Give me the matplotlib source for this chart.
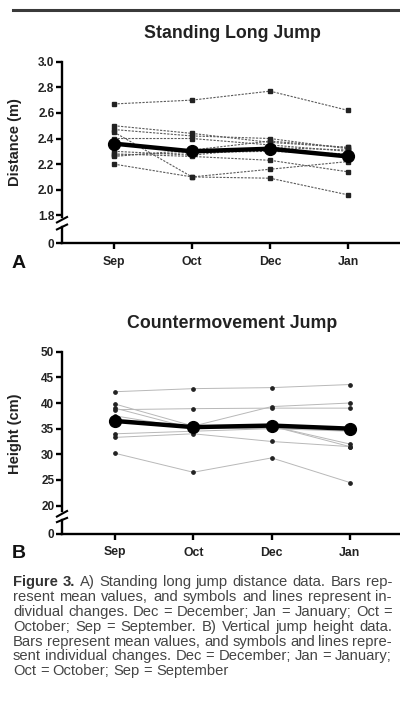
import matplotlib
matplotlib.use("Agg")
import matplotlib.pyplot as plt
import numpy as np

plt.rcParams['font.family'] = ['Liberation Sans', 'DejaVu Sans']

months = ["Sep", "Oct", "Dec", "Jan"]

# Panel A: standing long jump distance (m), individuals
slj_individual = [
    [2.67, 2.70, 2.77, 2.62],
    [2.50, 2.44, 2.37, 2.33],
    [2.47, 2.42, 2.40, 2.32],
    [2.45, 2.10, 2.16, 2.22],
    [2.40, 2.40, 2.35, 2.30],
    [2.30, 2.27, 2.33, 2.31],
    [2.28, 2.26, 2.23, 2.14],
    [2.27, 2.29, 2.30, 2.28],
    [2.26, 2.31, 2.38, 2.33],
    [2.20, 2.10, 2.09, 1.96],
]
slj_mean = [2.36, 2.30, 2.32, 2.26]

# Panel B: countermovement jump height (cm), individuals
cmj_individual = [
    [42.2, 42.8, 43.0, 43.6],
    [39.8, 35.5, 39.3, 40.0],
    [38.7, 38.9, 39.0, 39.0],
    [37.5, 35.0, 35.5, 32.0],
    [36.5, 35.2, 35.0, 35.0],
    [34.0, 34.5, 35.0, 34.5],
    [33.3, 34.0, 32.5, 31.5],
    [30.2, 26.5, 29.3, 24.5],
    [39.0, 35.0, 35.5, 31.5],
]
cmj_mean = [36.5, 35.3, 35.6, 35.0]

W, H = 400, 701
fig = plt.figure(figsize=(W / 100, H / 100), dpi=100)


def fx(px):
    return px / W


def fy(py):
    return 1 - py / H


def rect(left, top, right, bottom):
    return [fx(left), fy(bottom), fx(right) - fx(left), fy(top) - fy(bottom)]


x = np.arange(len(months))
SP = 1.7
TICKFS = 8.5
XTICKFS = 8.8


def make_panel(up_rect, low_rect, up_lim, low_lim, yticks, xlim, indiv, mean,
               ylabel, title, title_y, letter, letter_y, style):
    ax = fig.add_axes(up_rect)
    axl = fig.add_axes(low_rect)
    for a in (ax, axl):
        a.set_facecolor('none')
        for s in ('top', 'right'):
            a.spines[s].set_visible(False)
        a.spines['left'].set_linewidth(SP)
        a.set_xlim(*xlim)
    ax.spines['bottom'].set_visible(False)
    ax.set_xticks([])
    axl.spines['bottom'].set_linewidth(SP)
    ax.set_ylim(*up_lim)
    axl.set_ylim(*low_lim)
    ax.set_yticks(yticks)
    ax.set_yticklabels([f"{t:.1f}" if isinstance(t, float) else str(t) for t in yticks],
                       fontsize=TICKFS, fontweight='bold', color='#222222')
    axl.set_yticks([0])
    axl.set_yticklabels(["0"], fontsize=TICKFS, fontweight='bold', color='#222222')
    axl.set_xticks(x)
    axl.set_xticklabels(months, fontsize=XTICKFS, fontweight='bold', color='#222222')
    for a in (ax, axl):
        a.tick_params(axis='y', length=4.5, width=SP, pad=1.0)
    axl.tick_params(axis='x', length=4.5, width=SP, pad=4.5)

    for row in indiv:
        if style == 'dashed':
            ax.plot(x, row, color='#5a5a5a', lw=0.8, ls=(0, (2, 1.2)),
                    marker='s', ms=2.2, mfc='#222222', mec='#222222', zorder=2)
        else:
            ax.plot(x, row, color='#b8b8b8', lw=0.7, ls='-',
                    marker='o', ms=2.4, mfc='#222222', mec='#222222', zorder=2)
    ax.plot(x, mean, color='black', lw=3.2, marker='o', ms=8.5, zorder=3)

    # break marks
    d_up = dict(transform=ax.transAxes, color='black', lw=1.5, clip_on=False)
    ax.plot([-0.015, 0.015], [-0.035, 0.0], **d_up)
    d_lo = dict(transform=axl.transAxes, color='black', lw=1.5, clip_on=False)
    axl.plot([-0.015, 0.015], [0.85, 1.15], **d_lo)

    fig.text(fx(15), (up_rect[1] + up_rect[3] / 2 - 0.004), ylabel, rotation=90,
             ha='center', va='center', fontsize=10.5, fontweight='bold',
             color='#222222')
    fig.text(fx(232), fy(title_y), title, ha='center', va='center',
             fontsize=12.8, fontweight='bold', color='#222222')
    fig.text(fx(12), fy(letter_y), letter, ha='left', va='center',
             fontsize=14, fontweight='bold', color='#111111')
    return ax, axl


# Panel A
make_panel(rect(62, 61.7, 400, 217), rect(62, 227, 400, 243.3),
           (1.787, 3.0), (0, 0.125), [1.8, 2.0, 2.2, 2.4, 2.6, 2.8, 3.0],
           (-0.667, 3.667), slj_individual, slj_mean,
           "Distance (m)", "Standing Long Jump", 33, "A", 263, 'dashed')

# Panel B
make_panel(rect(62, 351.7, 400, 511), rect(62, 520, 400, 534),
           (18.95, 50), (0, 2.7), [20, 25, 30, 35, 40, 45, 50],
           (-0.677, 3.64), cmj_individual, cmj_mean,
           "Height (cm)", "Countermovement Jump", 323, "B", 553, 'solid')

# top rule
fig.add_artist(matplotlib.lines.Line2D([fx(13), fx(400)], [fy(10), fy(10)],
                                       color='#3a3a3a', lw=2.2))

# caption
caption_lines = [
    "Figure 3. A) Standing long jump distance data. Bars rep-",
    "resent mean values, and symbols and lines represent in-",
    "dividual changes. Dec = December; Jan = January; Oct =",
    "October; Sep = September. B) Vertical jump height data.",
    "Bars represent mean values, and symbols and lines repre-",
    "sent individual changes. Dec = December; Jan = January;",
    "Oct = October; Sep = September",
]
cap_base = [586, 601, 616, 631, 646, 660, 675]
renderer = fig.canvas.get_renderer()
x0, x1 = 13, 392


def build(cfs):
    allt = []
    for i, (line, yy) in enumerate(zip(caption_lines, cap_base)):
        words = line.split(" ")
        texts = []
        for j, w in enumerate(words):
            bold = (i == 0 and j < 2)
            t = fig.text(fx(x0), fy(yy), w, ha='left', va='baseline', fontsize=cfs,
                         fontweight='bold' if bold else 'normal',
                         color='#333333' if bold else '#444444')
            texts.append(t)
        allt.append(texts)
    return allt


# choose font size so that the tightest line has about a normal word gap
CFS = 10.6
while True:
    lines_t = build(CFS)
    min_gap = 1e9
    gaps = []
    for i, texts in enumerate(lines_t):
        widths = [t.get_window_extent(renderer).width for t in texts]
        if i == len(lines_t) - 1:
            gaps.append(None)
            continue
        g = (x1 - x0 - sum(widths)) / (len(texts) - 1)
        gaps.append(g)
        min_gap = min(min_gap, g)
    if min_gap >= 3.0 or CFS < 8:
        break
    for texts in lines_t:
        for t in texts:
            t.remove()
    CFS -= 0.1

for i, texts in enumerate(lines_t):
    widths = [t.get_window_extent(renderer).width for t in texts]
    gap = gaps[i] if gaps[i] is not None else 4.0
    pos = x0
    for t, wdt in zip(texts, widths):
        t.set_x(fx(pos))
        pos += wdt + gap

fig.savefig("out.png", dpi=100)
